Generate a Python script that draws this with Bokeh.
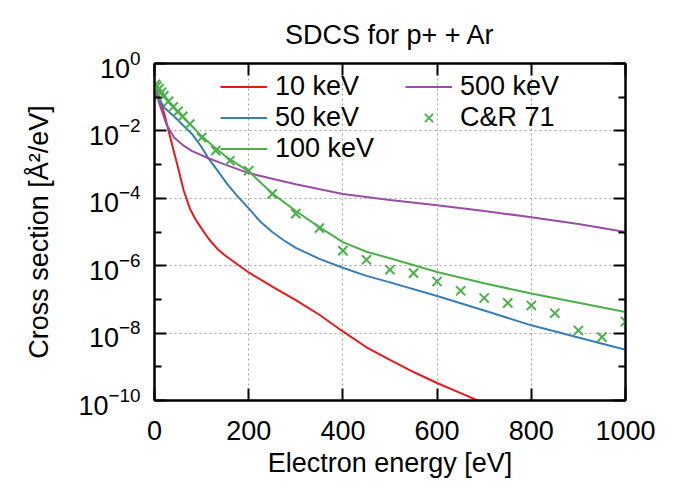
from bokeh.plotting import figure
from bokeh.models import Range1d, FixedTicker, LogAxis, LinearAxis, Legend, LegendItem
from bokeh.embed import file_html
from bokeh.resources import INLINE

# ---- data (electron energy in eV, SDCS in A^2/eV) ----
energy_10keV = [0, 10, 20, 30, 40, 50, 62, 75, 87, 100, 115, 133, 150, 175, 200,
                250, 300, 350, 400, 450, 500, 550, 600, 650, 700, 750]
sdcs_10keV = [1.8e-1, 1.0e-1, 3.5e-2, 1.0e-2, 2.8e-3, 8.0e-4, 1.7e-4, 5.0e-5, 2.4e-5,
              1.26e-5, 6.3e-6, 3.2e-6, 2.0e-6, 1.12e-6, 6.3e-7, 2.4e-7, 9.5e-8, 3.5e-8,
              1.12e-8, 3.8e-9, 1.6e-9, 7.0e-10, 3.3e-10, 1.66e-10, 8.3e-11, 4.0e-11]

energy_50keV = [0, 10, 20, 40, 60, 80, 100, 115, 135, 155, 175, 200, 225, 250, 275,
                300, 350, 400, 450, 500, 600, 700, 800, 900, 1000]
sdcs_50keV = [1.8e-1, 9.0e-2, 5.0e-2, 2.8e-2, 1.5e-2, 8.0e-3, 3.3e-3, 1.5e-3, 6.3e-4,
              2.6e-4, 1.2e-4, 5.0e-5, 2.0e-5, 1.0e-5, 5.6e-6, 3.4e-6, 1.6e-6, 8.7e-7,
              5.0e-7, 3.2e-7, 1.26e-7, 4.7e-8, 1.7e-8, 7.4e-9, 3.2e-9]

energy_100keV = [0, 10, 20, 30, 50, 75, 100, 125, 150, 175, 200, 250, 300, 350, 400,
                 450, 500, 600, 700, 800, 900, 1000]
sdcs_100keV = [1.8e-1, 1.4e-1, 1.0e-1, 7.0e-2, 3.5e-2, 1.6e-2, 7.0e-3, 3.5e-3, 1.8e-3,
               1.05e-3, 6.3e-4, 1.4e-4, 4.2e-5, 1.4e-5, 5.0e-6, 2.6e-6, 1.66e-6,
               6.5e-7, 3.0e-7, 1.5e-7, 8.0e-8, 4.2e-8]

energy_500keV = [0, 13, 25, 41, 60, 80, 112, 150, 200, 250, 300, 400, 500, 600, 700,
                 800, 900, 1000]
sdcs_500keV = [1.8e-1, 5.0e-2, 1.6e-2, 6.5e-3, 3.8e-3, 2.5e-3, 1.6e-3, 1.0e-3, 5.6e-4,
               3.8e-4, 2.6e-4, 1.35e-4, 8.9e-5, 6.2e-5, 4.2e-5, 2.75e-5, 1.74e-5, 1.0e-5]

energy_cr71 = [2, 5, 10, 15, 20, 30, 40, 50, 60, 75, 100, 130, 160, 200, 250, 300, 350,
               400, 450, 500, 550, 600, 650, 700, 750, 800, 850, 900, 950, 1000]
sdcs_cr71 = [2.4e-1, 2.1e-1, 1.8e-1, 1.4e-1, 1.1e-1, 7.6e-2, 5.2e-2, 3.8e-2, 2.7e-2,
             1.6e-2, 6.3e-3, 2.6e-3, 1.3e-3, 6.6e-4, 1.35e-4, 3.5e-5, 1.3e-5, 2.8e-6,
             1.5e-6, 7.6e-7, 6.0e-7, 3.4e-7, 1.8e-7, 1.1e-7, 7.9e-8, 6.6e-8, 3.9e-8,
             1.2e-8, 7.6e-9, 2.2e-8]

series_labels = ["10 keV", "50 keV", "100 keV", "500 keV", "C&R 71"]
x_ticks = [0, 200, 400, 600, 800, 1000]
y_major_ticks = [1e-10, 1e-8, 1e-6, 1e-4, 1e-2, 1]
y_minor_ticks = [1e-9, 1e-7, 1e-5, 1e-3, 1e-1]

# ---- styling ----
FONT = "Liberation Sans"
FS = "27px"
RED, BLUE, GREEN, PURPLE = "#e41a1c", "#377eb8", "#4daf4a", "#984ea3"

p = figure(width=674, height=489, y_axis_type="log",
           x_range=Range1d(0, 1000), y_range=Range1d(1e-10, 1),
           output_backend="svg", toolbar_location=None,
           min_border_left=154, min_border_right=49,
           min_border_top=63, min_border_bottom=89,
           title="SDCS for p+ + Ar")

p.title.text_font = FONT
p.title.text_font_size = FS
p.title.text_font_style = "normal"
p.title.text_color = "black"
p.title.align = "center"
p.title.standoff = 27

p.outline_line_color = "black"
p.outline_line_width = 2
p.background_fill_color = "white"
p.border_fill_color = "white"

xt = FixedTicker(ticks=x_ticks, minor_ticks=[])
yt = FixedTicker(ticks=y_major_ticks, minor_ticks=y_minor_ticks)

def style_axis(ax, labels=True):
    ax.axis_line_color = "black"
    ax.axis_line_width = 2
    ax.major_tick_line_color = "black"
    ax.major_tick_line_width = 2
    ax.minor_tick_line_color = "black"
    ax.minor_tick_line_width = 2
    ax.major_tick_in = 12
    ax.major_tick_out = 0
    ax.minor_tick_in = 7
    ax.minor_tick_out = 0
    ax.major_label_text_font = FONT
    ax.axis_label_text_font = FONT
    ax.axis_label_text_font_size = FS
    ax.axis_label_text_font_style = "normal"
    ax.axis_label_text_color = "black"
    if labels:
        ax.major_label_text_font_size = FS
        ax.major_label_text_color = "black"
    else:
        # mirrored tick marks only (gnuplot style box), no labels drawn
        ax.major_label_text_font_size = "2px"
        ax.major_label_text_color = None
        ax.major_label_standoff = 0

xa = p.xaxis[0]
xa.ticker = xt
style_axis(xa)
xa.major_label_standoff = 20
xa.axis_label = "Electron energy [eV]"
xa.axis_label_standoff = 5

ya = p.yaxis[0]
ya.ticker = yt
style_axis(ya)
ya.major_label_standoff = 14
ya.axis_label = "Cross section [Å²/eV]"
ya.axis_label_standoff = 21

top_axis = LinearAxis(ticker=xt)
style_axis(top_axis, labels=False)
p.add_layout(top_axis, "above")

right_axis = LogAxis(ticker=yt)
style_axis(right_axis, labels=False)
p.add_layout(right_axis, "right")

for g in (p.xgrid[0], p.ygrid[0]):
    g.grid_line_color = "#a0a0a0"
    g.grid_line_width = 1
    g.grid_line_dash = "2 3"
p.xgrid[0].ticker = xt
p.ygrid[0].ticker = yt

r10 = p.line(energy_10keV, sdcs_10keV, line_color=RED, line_width=2)
r50 = p.line(energy_50keV, sdcs_50keV, line_color=BLUE, line_width=2)
r100 = p.line(energy_100keV, sdcs_100keV, line_color=GREEN, line_width=2)
r500 = p.line(energy_500keV, sdcs_500keV, line_color=PURPLE, line_width=2)
rcr = p.scatter(energy_cr71, sdcs_cr71, marker="x", size=13,
                line_color=GREEN, line_width=2)

legend = Legend(
    items=[LegendItem(label=lab, renderers=[r])
           for lab, r in zip(series_labels, [r10, r50, r100, r500, rcr])],
    location=(66, 236), nrows=3, orientation="vertical",
    background_fill_alpha=0, border_line_color=None,
    padding=0, margin=0, spacing=0,
    glyph_width=47, glyph_height=29, label_height=29,
    label_standoff=8, label_width=130,
    label_text_font=FONT, label_text_font_size=FS, label_text_color="black",
)
p.add_layout(legend)

open("out.html", "w").write(file_html(p, INLINE))
